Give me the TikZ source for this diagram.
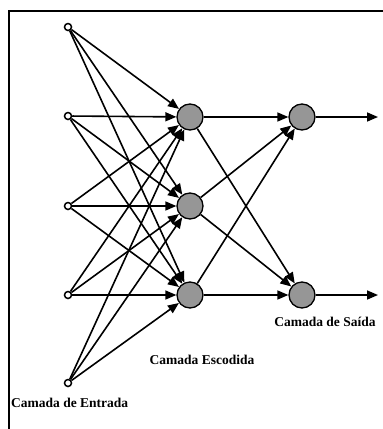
\documentclass[tikz,border=0pt]{standalone}
\usepackage{fontspec}
\setmainfont{Liberation Serif}
\usetikzlibrary{arrows.meta}
\definecolor{nodegray}{RGB}{150,150,150}
\begin{document}
\begin{tikzpicture}[x=1pt,y=-1pt,
  innode/.style={circle,draw=black,fill=white,line width=1.5pt,minimum size=7pt,inner sep=0pt},
  neuron/.style={circle,draw=black,fill=nodegray,line width=1.3pt,minimum size=26pt,inner sep=0pt},
  conn/.style={line width=1.6pt,-{Triangle[length=11pt,width=9pt]}},
  lbl/.style={font=\fontsize{13.5}{16}\selectfont\bfseries,inner sep=0pt}]
\useasboundingbox (0,0) rectangle (383,429);
\draw[line width=2pt] (383,11) -- (9,11) -- (9,429);
% input nodes
\foreach \i/\y in {1/27,2/116,3/206,4/295,5/383}
  \node[innode] (i\i) at (68,\y) {};
% hidden nodes
\foreach \j/\y in {1/117,2/206,3/295}
  \node[neuron] (h\j) at (190,\y) {};
% output nodes
\node[neuron] (o1) at (302,117) {};
\node[neuron] (o2) at (302,295) {};
\coordinate (e1) at (378,117);
\coordinate (e2) at (378,295);
% connections
\foreach \i in {1,...,5}
  \foreach \j in {1,2,3}
    \draw[conn] (i\i) -- (h\j);
\foreach \j in {1,2,3}
  \foreach \k in {1,2}
    \draw[conn] (h\j) -- (o\k);
\draw[conn] (o1) -- (e1);
\draw[conn] (o2) -- (e2);
% labels
\node[lbl] (ls) at (325,322) {Camada de Saída};
\node[lbl] (lh) at (202,360) {Camada Escodida};
\node[lbl,anchor=west] (li) at (11,403) {Camada de Entrada};
\end{tikzpicture}
\end{document}
